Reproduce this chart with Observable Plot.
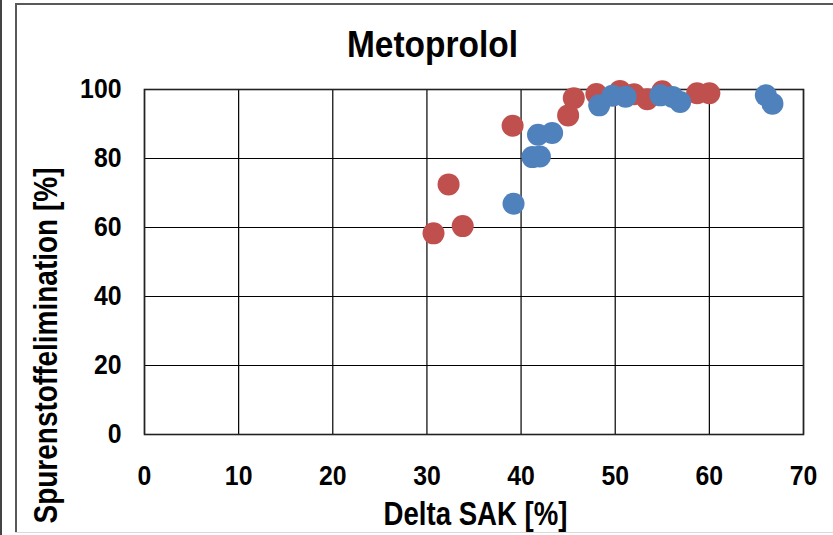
<!DOCTYPE html>
<html>
<head>
<meta charset="utf-8">
<script src="https://cdn.jsdelivr.net/npm/d3@7"></script>
<script src="https://cdn.jsdelivr.net/npm/@observablehq/plot@0.6"></script>
<style>
  html, body { margin: 0; padding: 0; background: #fff; }
  #wrap { position: relative; width: 833px; height: 535px; overflow: hidden; }
  #chart { position: absolute; left: 0; top: 0; }
  .line { position: absolute; pointer-events: none; }
</style>
</head>
<body>
<div id="wrap">
  <div id="chart"></div>
  <div class="line" style="left:0;top:0;width:2px;height:535px;background:#444;"></div>
  <div class="line" style="left:15px;top:3px;width:2px;height:530px;background:#595959;"></div>
  <div class="line" style="left:15px;top:3px;width:818px;height:2px;background:#595959;"></div>
  <div class="line" style="left:15px;top:532px;width:818px;height:1px;background:#d9d9d9;"></div>
</div>
<script>
const title = "Metoprolol";
const xLabel = "Delta SAK [%]";
const yLabel = "Spurenstoffelimination [%]";
const xTicks = [0, 10, 20, 30, 40, 50, 60, 70];
const yTicks = [0, 20, 40, 60, 80, 100];

// Red series
const redX = [30.7, 32.3, 33.8, 39.1, 45.0, 45.6, 48.0, 50.5, 52.0, 53.4, 55.0, 58.7, 60.0];
const redY = [58.3, 72.5, 60.4, 89.5, 92.5, 97.5, 98.7, 99.6, 98.6, 97.2, 99.5, 98.9, 98.9];
// Blue series
const blueX = [39.2, 41.2, 42.0, 41.8, 43.3, 48.3, 49.7, 51.1, 54.8, 56.1, 56.9, 66.0, 66.7];
const blueY = [66.9, 80.4, 80.6, 86.9, 87.4, 95.4, 98.2, 97.9, 98.3, 97.8, 96.4, 98.3, 95.9];

const red = redX.map((x, i) => ({x, y: redY[i]}));
const blue = blueX.map((x, i) => ({x, y: blueY[i]}));

const W = 833, H = 535, mT = 89, mL = 144, mR = 30, mB = 101;
const cx = mL + (W - mL - mR) / 2;
const cy = mT + (H - mT - mB) / 2;

const chart = Plot.plot({
  width: W, height: H,
  marginTop: mT, marginLeft: mL, marginRight: mR, marginBottom: mB,
  x: {domain: [0, 70]},
  y: {domain: [0, 100]},
  style: {fontFamily: "'Liberation Sans', Arial, sans-serif", fontWeight: "bold", background: "transparent", color: "#000"},
  marks: [
    Plot.gridX(xTicks, {stroke: "#000", strokeOpacity: 1, strokeWidth: 1.2}),
    Plot.gridY(yTicks, {stroke: "#000", strokeOpacity: 1, strokeWidth: 1.2}),
    Plot.frame({stroke: "#222", strokeWidth: 1.6}),
    Plot.dot(red, {x: "x", y: "y", r: 11, fill: "#C0504D", stroke: "none"}),
    Plot.dot(blue, {x: "x", y: "y", r: 11, fill: "#4F81BD", stroke: "none"}),
    Plot.axisX(xTicks, {tickSize: 0, tickPadding: 31, fontSize: 28, label: null, fill: "#000"}),
    Plot.axisY(yTicks, {tickSize: 0, tickPadding: 23, fontSize: 28, label: null, fill: "#000"}),
    Plot.text([title], {frameAnchor: "top", dx: 432 - cx, dy: 45 - mT, fontSize: 37, fill: "#000", textAnchor: "middle", lineAnchor: "middle"}),
    Plot.text([xLabel], {frameAnchor: "bottom", dx: 475 - cx, dy: 80, fontSize: 33, fill: "#000", textAnchor: "middle", lineAnchor: "middle"}),
    Plot.text([yLabel], {frameAnchor: "left", dx: -98, dy: 345 - cy, rotate: -90, fontSize: 34, fill: "#000", textAnchor: "middle", lineAnchor: "middle"})
  ]
});

// condense text to match the reference's narrow typeface
const textWidths = new Map([[title, 171], [xLabel, 184], [yLabel, 356]]);
d3.select(chart).selectAll('g[aria-label="x-axis tick label"] text, g[aria-label="y-axis tick label"] text')
  .each(function() {
    this.setAttribute("textLength", this.textContent.length * 13.8);
    this.setAttribute("lengthAdjust", "spacingAndGlyphs");
  });
d3.select(chart).selectAll('g[aria-label="text"] text')
  .each(function() {
    const w = textWidths.get(this.textContent);
    if (w) {
      this.setAttribute("textLength", w);
      this.setAttribute("lengthAdjust", "spacingAndGlyphs");
    }
  });
document.getElementById("chart").appendChild(chart);
</script>
</body>
</html>
